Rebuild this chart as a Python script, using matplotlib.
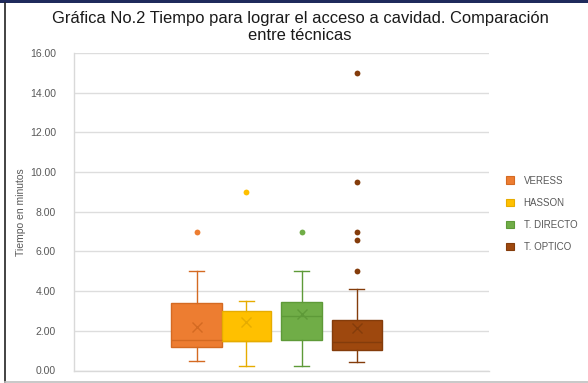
import matplotlib
matplotlib.use("Agg")
import matplotlib.pyplot as plt
from matplotlib.patches import Patch, Rectangle
from matplotlib.lines import Line2D

plt.rcParams['font.family'] = ['Liberation Sans', 'DejaVu Sans']

categories = ["VERESS", "HASSON", "T. DIRECTO", "T. OPTICO"]
q1 = [1.17, 1.50, 1.56, 1.04]
median = [1.54, 1.50, 2.77, 1.44]
q3 = [3.39, 3.02, 3.47, 2.52]
mean = [2.18, 2.45, 2.87, 2.13]
whisker_low = [0.50, 0.25, 0.25, 0.42]
whisker_high = [5.00, 3.50, 5.00, 4.11]
outliers = [[7.0], [9.0], [7.0], [5.0, 6.6, 7.0, 9.5, 15.0]]
yticks = [0, 2, 4, 6, 8, 10, 12, 14, 16]

fills = ["#ED7D31", "#FFC000", "#70AD47", "#9E480E"]
edges = ["#D46A22", "#E6AC00", "#5E9A38", "#843C0B"]
positions = [2.45, 3.45, 4.55, 5.65]
widths = [1.02, 0.98, 0.80, 1.00]

fig = plt.figure(figsize=(5.88, 3.83), dpi=100)
ax = fig.add_axes([74/588, 1-370.5/383, (489-74)/588, (370.5-53)/383])

for i, cat in enumerate(categories):
    stats = [dict(label=cat, q1=q1[i], med=median[i], q3=q3[i], mean=mean[i],
                  whislo=whisker_low[i], whishi=whisker_high[i], fliers=outliers[i])]
    ax.bxp(stats, positions=[positions[i]], widths=[widths[i]], capwidths=[0.3],
           patch_artist=True, showmeans=True, zorder=3,
           boxprops=dict(facecolor=fills[i], edgecolor=edges[i], linewidth=1.0),
           medianprops=dict(color=edges[i], linewidth=1.0),
           whiskerprops=dict(color=edges[i], linewidth=1.0),
           capprops=dict(color=edges[i], linewidth=1.0),
           meanprops=dict(marker='x', markeredgecolor=edges[i], markersize=7.5,
                          markeredgewidth=1.0),
           flierprops=dict(marker='o', markerfacecolor=edges[i] if i == 3 else fills[i],
                           markeredgecolor='none', markersize=4.2))

ax.set_xlim(0, 8.3)
ax.set_ylim(0, 16)
ax.set_yticks(yticks)
ax.set_yticklabels([f"{v:.2f}" for v in yticks], fontsize=7.5, color="#595959")
ax.set_xticks([])
ax.tick_params(axis='y', length=0, pad=13)
ax.grid(axis='y', color="#DDDDDD", linewidth=1.0, zorder=0)
ax.set_axisbelow(True)
for s in ['top', 'right']:
    ax.spines[s].set_visible(False)
for s in ['left', 'bottom']:
    ax.spines[s].set_color("#D9D9D9")
    ax.spines[s].set_linewidth(1.0)

fig.text(21/588, 1-212/383, "Tiempo en minutos", rotation=90, ha='center', va='center',
         fontsize=7.5, color="#595959")

fig.text(300/588, 1-18/383, "Gráfica No.2 Tiempo para lograr el acceso a cavidad. Comparación",
         ha='center', va='center', fontsize=11.9, color="#1a1a1a")
fig.text(300/588, 1-35/383, "entre técnicas", ha='center', va='center',
         fontsize=11.9, color="#1a1a1a")

handles = [Patch(facecolor=fills[i], edgecolor=edges[i], linewidth=0.8) for i in range(4)]
fig.legend(handles, categories, loc='upper left', bbox_to_anchor=(506/588, 1-175.5/383),
           frameon=False, fontsize=7, labelcolor="#595959", handlelength=0.8,
           handleheight=0.8, handletextpad=1.0, labelspacing=1.25,
           borderpad=0, borderaxespad=0)

# figure border
fig.add_artist(Rectangle((0, 1-3/383), 1, 3/383, transform=fig.transFigure,
                         facecolor="#1F2A5C", edgecolor='none'))
fig.add_artist(Line2D([5/588, 5/588], [1/383, 1-3/383], transform=fig.transFigure,
                      color="#222222", linewidth=1.2))
fig.add_artist(Line2D([5/588, 1], [1.5/383, 1.5/383], transform=fig.transFigure,
                      color="#BFBFBF", linewidth=1.2))

fig.savefig("out.png", dpi=100)
